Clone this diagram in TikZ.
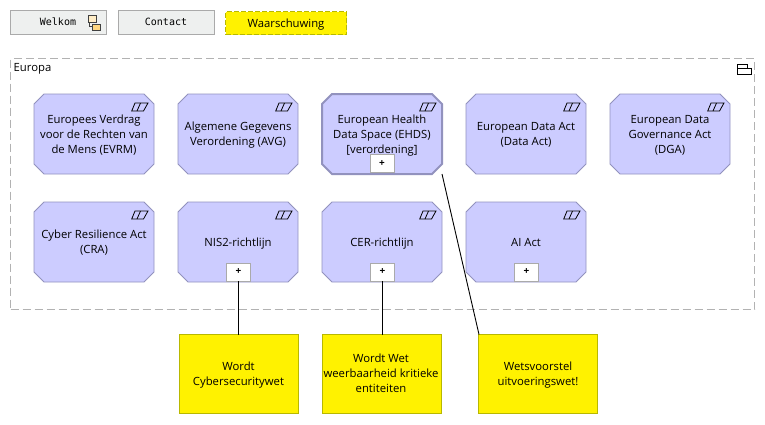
\documentclass[tikz,border=0pt]{standalone}
\usepackage{fontspec}
\setmainfont{Open Sans}
\setmonofont{DejaVu Sans Mono}
\usetikzlibrary{calc}
\definecolor{reqfill}{RGB}{204,204,255}
\definecolor{reqline}{RGB}{146,146,190}
\definecolor{btnfill}{RGB}{238,240,239}
\definecolor{btnline}{RGB}{170,170,170}
\definecolor{noteline}{RGB}{184,184,0}
\definecolor{grpline}{RGB}{178,178,178}
\definecolor{subfill}{RGB}{255,214,128}
\tikzset{
  x=1pt,y=-1pt,
  every node/.style={inner sep=0pt,outer sep=0pt},
  lbl/.style={font=\fontsize{11.3}{15}\selectfont,align=center,text=black},
  req/.style={rectangle,minimum width=120pt,minimum height=80pt,lbl},
  octa/.style={draw=reqline,fill=reqfill,line width=.8pt,line join=miter},
  octabold/.style={octa,line width=2pt},
  plusbox/.style={draw=btnline,fill=white,line width=.8pt,minimum width=24pt,minimum height=18pt,
    font=\bfseries\fontsize{10}{10}\selectfont,text=black},
  notebox/.style={draw=noteline,fill=yellow,line width=.8pt,minimum width=119pt,minimum height=79pt},
  notetext/.style={lbl},
  btn/.style={draw=btnline,fill=btnfill,line width=.8pt,minimum width=96pt,minimum height=24pt},
  btntext/.style={font=\ttfamily\fontsize{10}{12}\selectfont,text=black},
  warn/.style={draw=noteline,dash pattern=on 5pt off 2pt,fill=yellow,line width=.8pt,minimum width=121pt,minimum height=23pt},
  grp/.style={draw=grpline,dash pattern=on 8pt off 4pt,line width=.8pt,fill=white,minimum width=744pt,minimum height=251pt},
  conn/.style={draw=black,line width=.9pt},
  glyph/.style={draw=black,line width=.8pt,line join=miter},
}
% requirement node: chamfered outline, text, parallelogram glyph
\newcommand{\reqnode}[5][octa]{%
  \path[#1] (#3-50,#4-40) -- (#3+50,#4-40) -- (#3+60,#4-30) -- (#3+60,#4+30) -- (#3+50,#4+40)
    -- (#3-50,#4+40) -- (#3-60,#4+30) -- (#3-60,#4-30) -- cycle;
  \node[req] (#2) at (#3,#4+1) {\strut #5\strut};
  \draw[glyph] (#3+37.7,#4-23) -- (#3+49.5,#4-23) -- (#3+54,#4-31) -- (#3+41,#4-31) -- cycle;
  \draw[glyph] (#3+43,#4-23) -- (#3+46.5,#4-31);
}
\begin{document}
\begin{tikzpicture}
\useasboundingbox (0,0) rectangle (765,424);
\fill[white] (0,0) rectangle (765,424);

\node[btn] (welkom) at (58.5,22.5) {};
\node[btntext] (welkomt) at (58,23.5) {\strut Welkom};
\draw[draw=black!75,line width=.7pt] (89.5,22) |- (93,26.5);
\draw[draw=black!75,line width=.8pt,fill=subfill!45] (88.5,15.5) rectangle (96.5,22.5);
\draw[draw=black!75,line width=.8pt,fill=subfill] (92.8,24) rectangle (100.7,30);
\node[btn] (contact) at (166,22.5) {};
\node[btntext] (contactt) at (166,23.5) {\strut Contact};
\node[warn] (waarsch) at (286,23) {};
\node[lbl] (waarscht) at (286,24.5) {\strut Waarschuwing};

\node[grp,anchor=north west] (europa) at (10.5,58.5) {};
\node[lbl,anchor=north] (europat) at (32.5,61) {\strut Europa};
\draw[glyph] (737.5,68) rectangle (751,74.5);
\draw[glyph] (737.5,68) -- (737.5,64.5) -- (747,64.5) -- (747,68);

\reqnode{evrm}{94}{134}{Europees Verdrag\\voor de Rechten van\\de Mens (EVRM)}
\reqnode{avg}{238}{134}{Algemene Gegevens\\Verordening (AVG)}
\reqnode[octabold]{ehds}{382}{134}{European Health\\Data Space (EHDS)\\{[verordening]}}
\reqnode{dact}{526}{134}{European Data Act\\(Data Act)}
\reqnode{dga}{670}{134}{European Data\\Governance Act\\(DGA)}
\reqnode{cra}{94}{242}{Cyber Resilience Act\\(CRA)}
\reqnode{nis}{238}{242}{NIS2-richtlijn}
\reqnode{cer}{382}{242}{CER-richtlijn}
\reqnode{ai}{526}{242}{AI Act}

\node[plusbox] (pehds) at (382,163.5) {+};
\node[plusbox] (pnis) at (238.5,272) {+};
\node[plusbox] (pcer) at (382.5,272) {+};
\node[plusbox] (pai) at (526.5,272) {+};

\node[notebox] (n1) at (238.5,374) {};
\node[notebox] (n2) at (382,374) {};
\node[notebox] (n3) at (538,374) {};
\node[notetext] (n1t) at (238.5,374.7) {\strut Wordt\\Cybersecuritywet\strut};
\node[notetext] (n2t) at (381,374.7) {\strut Wordt Wet\\weerbaarheid kritieke\\entiteiten\strut};
\node[notetext] (n3t) at (538,374.7) {\strut Wetsvoorstel\\uitvoeringswet!\strut};

\draw[conn] (pnis.south) -- (n1.north -| pnis.south);
\draw[conn] (pcer.south) -- (n2.north -| pcer.south);
\coordinate (ehdsout) at (442,174);
\coordinate (n3in) at (479,334.5);
\draw[conn] (ehdsout) -- (n3in);
\end{tikzpicture}
\end{document}
